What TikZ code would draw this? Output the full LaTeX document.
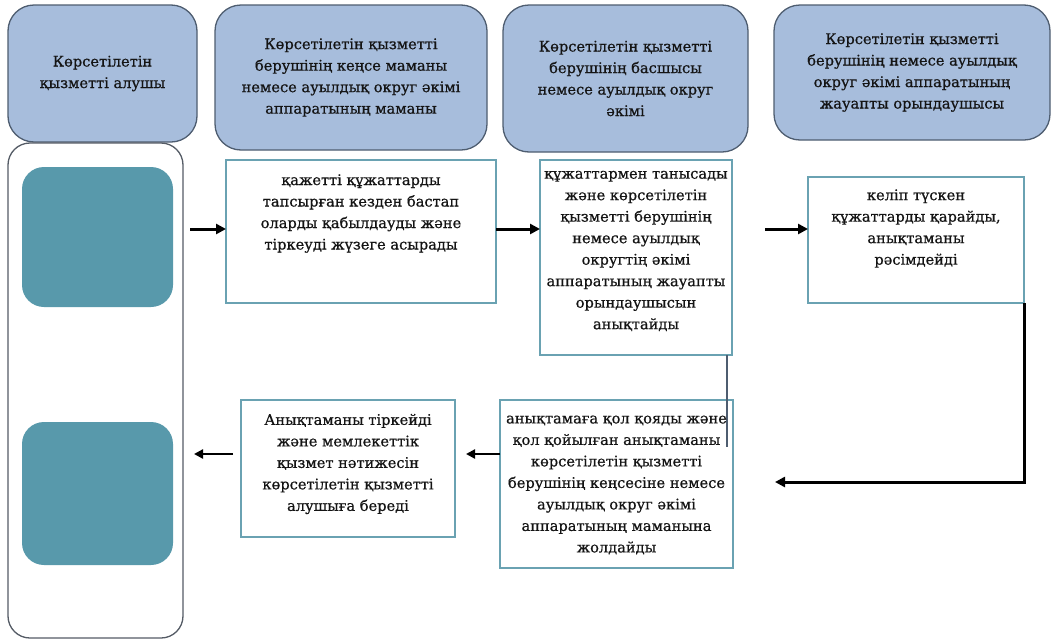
\documentclass[tikz,border=0pt]{standalone}
\usepackage{fontspec}
\setmainfont{DejaVu Serif}[FakeBold=0.7]
\usetikzlibrary{arrows.meta}
\definecolor{hdrfill}{HTML}{A7BDDC}
\definecolor{hdrdraw}{HTML}{4E5D70}
\definecolor{tealfill}{HTML}{5899AB}
\definecolor{pdraw}{HTML}{6AA2B2}
\definecolor{contdraw}{HTML}{555C66}
\definecolor{txt}{HTML}{141414}
\begin{document}
\begin{tikzpicture}[x=1pt,y=-1pt,
  every node/.style={inner sep=0pt, outer sep=0pt},
  txtfont/.style={font=\fontsize{14.6}{21.5}\selectfont, text=txt, align=center},
  hdr/.style={draw=hdrdraw, line width=1.3pt, fill=hdrfill, rounded corners=26pt, txtfont},
  pbox/.style={draw=pdraw, line width=1.4pt, fill=white, txtfont},
  cont/.style={draw=contdraw, line width=1.3pt, fill=white, rounded corners=22pt},
  tealbox/.style={fill=tealfill, rounded corners=22pt},
  arr/.style={-{Triangle[length=10pt,width=10pt]}, line width=3pt, black},
  arrthin/.style={-{Triangle[length=9pt,width=9pt]}, line width=2.2pt, black},
  link/.style={line width=1.2pt, draw=hdrdraw}
]
\useasboundingbox[fill=white] (0,0) rectangle (1054,643);

% headers
\node[hdr, minimum width=189pt, minimum height=137pt] (h1) at (102.5,73.5)
  {Көрсетілетін\\қызметті алушы};
\node[hdr, minimum width=272pt, minimum height=145pt] (h2) at (351,77.5)
  {Көрсетілетін қызметті\\берушінің кеңсе маманы\\немесе ауылдық округ әкімі\\аппаратының маманы};
\node[hdr, minimum width=245pt, minimum height=147pt] (h3) at (625.5,78.5)
  {Көрсетілетін қызметті\\берушінің басшысы\\немесе ауылдық округ\\әкімі};
\node[hdr, minimum width=276pt, minimum height=135pt] (h4) at (912,72.5)
  {Көрсетілетін қызметті\\берушінің немесе ауылдық\\округ әкімі аппаратының\\жауапты орындаушысы};

% left container
\node[cont, minimum width=175pt, minimum height=495pt] (cont) at (95.5,390.5) {};
\node[tealbox, minimum width=151pt, minimum height=140pt] (t1) at (97.5,237) {};
\node[tealbox, minimum width=151pt, minimum height=143pt] (t2) at (97.5,493.5) {};

% process boxes
\node[pbox, minimum width=270pt, minimum height=143pt] (p1) at (361,231.5) {};
\node[txtfont] (p1t) at (361,213.5)
  {қажетті құжаттарды\\тапсырған кезден бастап\\оларды қабылдауды және\\тіркеуді жүзеге асырады};

\node[pbox, minimum width=192pt, minimum height=195pt] (p2) at (636,257.5) {};
\node[txtfont] (p2t) at (636,251)
  {құжаттармен танысады\\және көрсетілетін\\қызметті берушінің\\немесе ауылдық\\округтің әкімі\\аппаратының жауапты\\орындаушысын\\анықтайды};

\node[pbox, minimum width=216pt, minimum height=126pt] (p3) at (916,240) {};
\node[txtfont] (p3t) at (916,228.5)
  {келіп түскен\\құжаттарды қарайды,\\анықтаманы\\рәсімдейді};

\node[pbox, minimum width=233pt, minimum height=168pt] (p4) at (616.5,484) {};

\node[pbox, minimum width=214pt, minimum height=137pt] (p5) at (348,468.5) {};
\node[txtfont] (p5t) at (348,464)
  {Анықтаманы тіркейді\\және мемлекеттік\\қызмет нәтижесін\\көрсетілетін қызметті\\алушыға береді};

% connectors
\coordinate (a1s) at (190,229);
\coordinate (a3s) at (765,229);
\coordinate (a4e) at (775,482);
\coordinate (l1e) at (727,447);
\coordinate (a5e) at (466,454);
\coordinate (a6s) at (233,454);
\coordinate (a6e) at (194,454);

\draw[arr] (a1s) -- (a1s -| p1.west);
\draw[arr] (p1.east |- a1s) -- (p2.west |- a1s);
\draw[arr] (a3s) -- (a3s -| p3.west);
\draw[arr] (p3.south east) -- (p3.south east |- a4e) -- (a4e);
\draw[link] (l1e |- p2.south) -- (l1e);
\draw[arrthin] (p4.west |- a5e) -- (a5e);
\draw[arrthin] (a6s) -- (a6e);

\node[txtfont] (p4t) at (616.5,485)
  {анықтамаға қол қояды және\\қол қойылған анықтаманы\\көрсетілетін қызметті\\берушінің кеңсесіне немесе\\ауылдық округ әкімі\\аппаратының маманына\\жолдайды};
\end{tikzpicture}
\end{document}
